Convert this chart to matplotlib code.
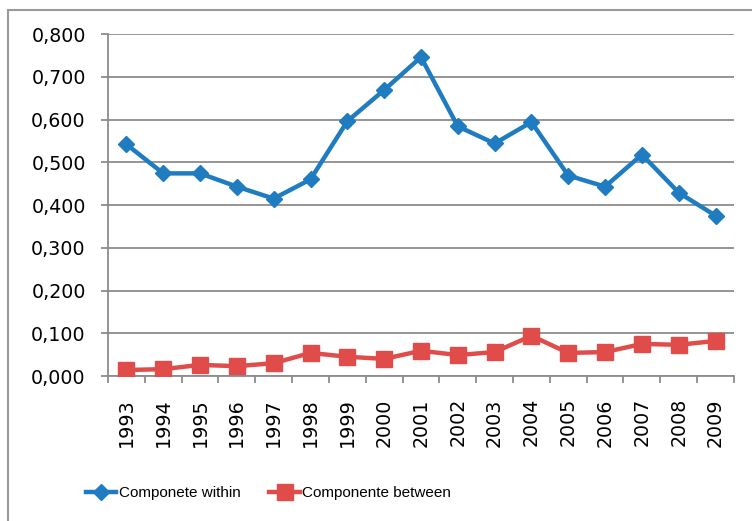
import numpy as np
import matplotlib.pyplot as plt
from matplotlib import font_manager
from matplotlib.ticker import FuncFormatter, FixedLocator
from matplotlib.patches import Rectangle

# values
years = [str(y) for y in range(1993, 2010)]
within = [0.542, 0.474, 0.474, 0.443, 0.415, 0.460, 0.596, 0.669, 0.746,
          0.584, 0.544, 0.594, 0.469, 0.443, 0.518, 0.429, 0.375]
between = [0.014, 0.016, 0.026, 0.023, 0.030, 0.054, 0.045, 0.040, 0.059,
           0.049, 0.056, 0.094, 0.054, 0.056, 0.075, 0.073, 0.082]

BLUE = "#1f7cc1"
RED = "#e04c4a"
GRID = "#8c8c8c"

# narrow face for the legend if there is one, else a plain sans
names = {f.name for f in font_manager.fontManager.ttflist}
legend_font = "Liberation Sans Narrow" if "Liberation Sans Narrow" in names else "Liberation Sans"
legend_size = 12.2 if legend_font == "Liberation Sans Narrow" else 11

plt.rcParams["font.family"] = ["DejaVu Sans"]

fig = plt.figure(figsize=(7.52, 5.21), dpi=100)
ax = fig.add_axes([0.1436, 0.2783, 0.8324, 0.6564])

x = np.arange(len(years))
ax.plot(x, within, color=BLUE, lw=3.2, marker="D", ms=8.5,
        label="Componete within", zorder=3)
ax.plot(x, between, color=RED, lw=3.2, marker="s", ms=12,
        label="Componente between", zorder=3)

ax.set_xlim(-0.5, len(years) - 0.5)
ax.set_ylim(0, 0.8)
ax.set_yticks(np.arange(0, 0.81, 0.1))
ax.yaxis.set_major_formatter(FuncFormatter(lambda v, p: f"{v:.3f}".replace(".", ",")))
ax.grid(axis="y", color=GRID, lw=1.3)
ax.set_axisbelow(True)

ax.set_xticks(x)
ax.set_xticklabels(years, rotation=90)
ax.xaxis.set_minor_locator(FixedLocator(np.arange(-0.5, len(years), 1.0)))
ax.tick_params(axis="x", which="major", length=0, pad=16, labelsize=13.7)
ax.tick_params(axis="x", which="minor", length=5, color=GRID, width=1.3)
ax.tick_params(axis="y", length=5, color=GRID, width=1.3, pad=11, labelsize=13.7)

for s in ["top", "right"]:
    ax.spines[s].set_visible(False)
for s in ["left", "bottom"]:
    ax.spines[s].set_color(GRID)
    ax.spines[s].set_linewidth(1.3)

fig.legend(loc="center", bbox_to_anchor=(0.357, 0.054), ncol=2, frameon=False,
           prop={"family": legend_font, "size": legend_size},
           handlelength=2.0, handletextpad=0.15, columnspacing=1.9)

# outer chart border, top-left corner visible, the rest runs off the image
fig.patches.append(Rectangle((8 / 752, -0.1), 1.2, 1 - 10 / 521 + 0.1,
                             transform=fig.transFigure, fill=False,
                             edgecolor="#9a9a9a", lw=1.5))

fig.savefig("out.png", dpi=100)
